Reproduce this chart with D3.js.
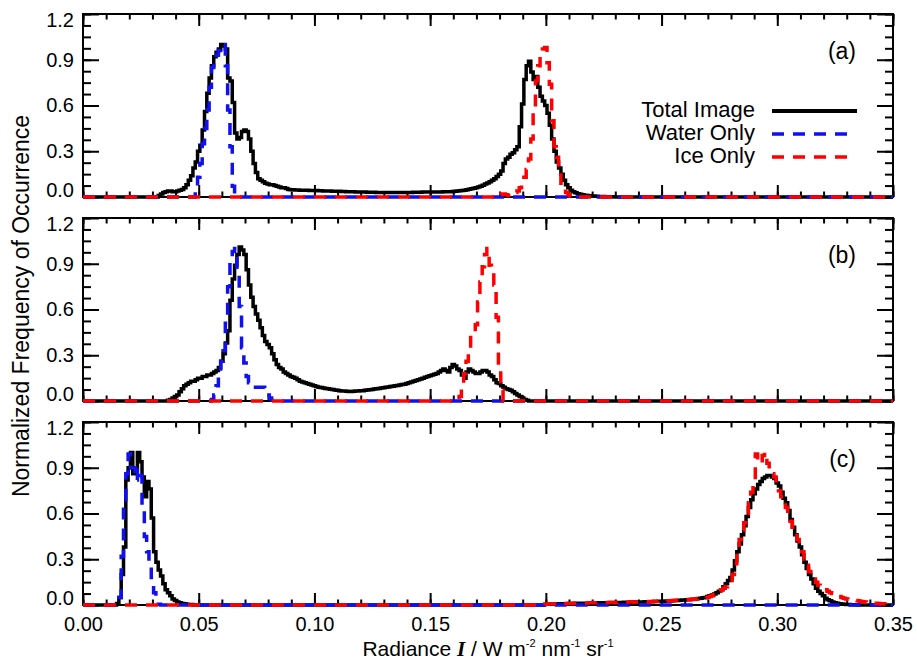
<!DOCTYPE html>
<html>
<head>
<meta charset="utf-8">
<script src="https://cdnjs.cloudflare.com/ajax/libs/d3/7.8.5/d3.min.js"></script>
<style>
  body { margin: 0; background: #fff; }
  text { font-family: "Liberation Sans", Arial, sans-serif; fill: #000; }
</style>
</head>
<body>
<svg width="917" height="661"></svg>
<script>
// histogram bin width (radiance units)
const binWidth = 0.001;

const xTicks = [0, 0.05, 0.10, 0.15, 0.20, 0.25, 0.30, 0.35];
const yTicks = [0, 0.3, 0.6, 0.9, 1.2];
const panelLabels = ["(a)", "(b)", "(c)"];
const seriesNames = ["Total Image", "Water Only", "Ice Only"];

// ---- panel (a) ----
const totalAStart = 0.030;
const totalA = [
  0, 0, 0, 0.01, 0.02, 0.03, 0.035, 0.04, 0.04, 0.035,
  0.035, 0.04, 0.045, 0.05, 0.06, 0.08, 0.11, 0.14, 0.19, 0.23,
  0.30, 0.34, 0.44, 0.56, 0.68, 0.78, 0.86, 0.92, 0.95, 0.97,
  1.00, 0.99, 0.97, 0.78, 0.76, 0.62, 0.42, 0.38, 0.39, 0.43,
  0.44, 0.43, 0.38, 0.30, 0.22, 0.16, 0.12, 0.11, 0.10, 0.09,
  0.085, 0.08, 0.08, 0.075, 0.07, 0.065, 0.06, 0.06, 0.055, 0.05,
  0.048, 0.047, 0.046, 0.046, 0.045, 0.045, 0.044, 0.044, 0.043, 0.043,
  0.042, 0.042, 0.041, 0.041, 0.04, 0.04, 0.039, 0.039, 0.038, 0.038,
  0.037, 0.037, 0.036, 0.036, 0.035, 0.035, 0.034, 0.034, 0.033, 0.033,
  0.032, 0.032, 0.032, 0.031, 0.031, 0.031, 0.031, 0.03, 0.03, 0.03,
  0.03, 0.03, 0.03, 0.03, 0.03, 0.03, 0.03, 0.03, 0.03, 0.03,
  0.03, 0.03, 0.03, 0.031, 0.031, 0.031, 0.031, 0.032, 0.032, 0.032,
  0.032, 0.032, 0.033, 0.033, 0.033, 0.033, 0.034, 0.034, 0.034, 0.035,
  0.036, 0.037, 0.039, 0.041, 0.043, 0.045, 0.048, 0.051, 0.054, 0.057,
  0.06, 0.065, 0.07, 0.077, 0.085, 0.092, 0.10, 0.11, 0.12, 0.135,
  0.15, 0.17, 0.22, 0.25, 0.26, 0.28, 0.29, 0.31, 0.33, 0.46,
  0.61, 0.77, 0.86, 0.89, 0.82, 0.77, 0.79, 0.72, 0.66, 0.63,
  0.60, 0.55, 0.47, 0.38, 0.30, 0.23, 0.19, 0.15, 0.11, 0.08,
  0.06, 0.045, 0.035, 0.028, 0.022, 0.018, 0.014, 0.012, 0.01, 0.008,
  0.007, 0.006, 0.005, 0.004, 0.003, 0.003, 0.002, 0.002, 0.001, 0.001, 0
];
const waterAStart = 0.048;
const waterA = [0, 0.02, 0.13, 0.22, 0.35, 0.45, 0.57, 0.72, 0.85, 0.90,
  0.93, 0.96, 0.98, 1.0, 0.86, 0.57, 0.33, 0.07, 0];
const iceAStart = 0.180;
const iceA = [0.01, 0.02, 0.02, 0.015, 0.01, 0.01, 0.02, 0.03, 0.04, 0.06,
  0.09, 0.13, 0.18, 0.25, 0.38, 0.58, 0.76, 0.86, 0.93, 0.97,
  0.98, 0.88, 0.74, 0.50, 0.33, 0.26, 0.20, 0.09, 0.05, 0.03,
  0.015, 0.005, 0];

// ---- panel (b) ----
const totalBStart = 0.036;
const totalB = [
  0, 0.005, 0.01, 0.02,
  0.03, 0.04, 0.06, 0.08, 0.10, 0.11, 0.12, 0.13, 0.13, 0.14,
  0.15, 0.15, 0.16, 0.16, 0.17, 0.17, 0.18, 0.19, 0.20, 0.22,
  0.26, 0.31, 0.38, 0.46, 0.66, 0.80, 0.89, 0.96, 1.01, 0.99,
  0.96, 0.86, 0.76, 0.68, 0.62, 0.57, 0.53, 0.48, 0.43, 0.39,
  0.37, 0.35, 0.31, 0.27, 0.24, 0.22, 0.21, 0.19, 0.18, 0.17,
  0.16, 0.155, 0.15, 0.14, 0.13, 0.125, 0.12, 0.115, 0.11, 0.105,
  0.10, 0.095, 0.09, 0.088, 0.085, 0.082, 0.08, 0.077, 0.075, 0.072,
  0.07, 0.068, 0.066, 0.065, 0.064, 0.063, 0.063, 0.064, 0.065, 0.066,
  0.067, 0.068, 0.07, 0.072, 0.074, 0.076, 0.078, 0.08, 0.082, 0.085,
  0.087, 0.09, 0.092, 0.095, 0.097, 0.10, 0.102, 0.105, 0.108, 0.11,
  0.115, 0.12, 0.125, 0.13, 0.135, 0.14, 0.145, 0.15, 0.155, 0.16,
  0.165, 0.17, 0.175, 0.18, 0.19, 0.20, 0.21, 0.20, 0.19, 0.22,
  0.24, 0.23, 0.21, 0.20, 0.17, 0.15, 0.19, 0.21, 0.20, 0.19,
  0.18, 0.18, 0.19, 0.20, 0.20, 0.19, 0.17, 0.16, 0.14, 0.12,
  0.115, 0.10, 0.09, 0.08, 0.075, 0.07, 0.06, 0.05, 0.04, 0.03,
  0.02, 0.01, 0.005, 0
];
const waterBStart = 0.055;
const waterB = [0, 0.01, 0.04, 0.10, 0.18, 0.26, 0.33, 0.51, 0.75, 0.92,
  0.98, 1.0, 0.86, 0.62, 0.35, 0.25, 0.16, 0.12, 0.10, 0.09,
  0.09, 0.09, 0.09, 0.09, 0.06, 0.04, 0.02, 0.005, 0];
const iceBStart = 0.160;
const iceB = [0, 0.005, 0.01, 0.03, 0.08, 0.18, 0.26, 0.33, 0.44, 0.44,
  0.50, 0.65, 0.78, 0.88, 0.96, 1.0, 0.89, 0.86, 0.76, 0.55,
  0.25, 0.07, 0];

// ---- panel (c) ----
const totalCStart = 0.014;
const totalC = [0, 0.01, 0.05, 0.20, 0.38, 0.82, 0.90, 1.0, 0.86, 0.90,
  1.0, 0.94, 0.84, 0.71, 0.81, 0.76, 0.57, 0.35, 0.28, 0.23,
  0.19, 0.14, 0.10, 0.08, 0.06, 0.04, 0.03, 0.02, 0.015, 0.01,
  0.008, 0.005, 0.004, 0.003];
const totalC2Start = 0.200;
const totalC2 = [
  0.005, 0.005, 0.006, 0.006, 0.007, 0.007, 0.008, 0.008, 0.009, 0.009,
  0.01, 0.01, 0.01, 0.011, 0.011, 0.011, 0.012, 0.012, 0.012, 0.013,
  0.013, 0.013, 0.014, 0.014, 0.014, 0.015, 0.015, 0.015, 0.016, 0.016,
  0.016, 0.017, 0.017, 0.017, 0.018, 0.018, 0.018, 0.019, 0.019, 0.019,
  0.02, 0.02, 0.02, 0.021, 0.021, 0.022, 0.022, 0.023, 0.023, 0.024,
  0.024, 0.025, 0.026, 0.026, 0.027, 0.028, 0.029, 0.03, 0.031, 0.032,
  0.033, 0.034, 0.035, 0.036, 0.038, 0.04, 0.042, 0.044, 0.047, 0.05,
  0.055, 0.06, 0.065, 0.072, 0.08, 0.09, 0.10, 0.12, 0.14, 0.16,
  0.18, 0.23, 0.29, 0.35, 0.40, 0.46, 0.52, 0.58, 0.64, 0.69,
  0.73, 0.76, 0.79, 0.81, 0.83, 0.84, 0.85, 0.85, 0.84, 0.83,
  0.80, 0.78, 0.74, 0.70, 0.67, 0.62, 0.56, 0.51, 0.46, 0.42,
  0.38, 0.33, 0.28, 0.24, 0.20, 0.17, 0.14, 0.11, 0.09, 0.075,
  0.06, 0.045, 0.035, 0.028, 0.02, 0.015, 0.012, 0.009, 0.006, 0.005,
  0.004, 0.003, 0.002, 0.001, 0.001, 0
];
const waterCStart = 0.015;
const waterC = [0, 0.05, 0.32, 0.69, 0.86, 0.99, 0.90, 0.90, 0.82, 0.90,
  0.85, 0.62, 0.45, 0.35, 0.29, 0.18, 0.08, 0.02, 0.005, 0];
const iceCStart = 0.200;
const iceC = [
  0.005, 0.006, 0.006, 0.007, 0.007, 0.008, 0.008, 0.009, 0.009, 0.01,
  0.01, 0.01, 0.011, 0.011, 0.012, 0.012, 0.012, 0.013, 0.013, 0.014,
  0.014, 0.014, 0.015, 0.015, 0.015, 0.016, 0.016, 0.016, 0.017, 0.017,
  0.017, 0.018, 0.018, 0.018, 0.019, 0.019, 0.019, 0.02, 0.02, 0.02,
  0.02, 0.021, 0.021, 0.022, 0.022, 0.023, 0.023, 0.024, 0.024, 0.025,
  0.025, 0.026, 0.027, 0.028, 0.028, 0.029, 0.03, 0.031, 0.032, 0.033,
  0.034, 0.035, 0.036, 0.037, 0.038, 0.04, 0.041, 0.043, 0.045, 0.048,
  0.05, 0.055, 0.06, 0.068, 0.078, 0.09, 0.10, 0.11, 0.12, 0.14,
  0.16, 0.20, 0.27, 0.35, 0.43, 0.49, 0.54, 0.60, 0.67, 0.74,
  0.82, 0.99, 0.94, 0.93, 0.98, 1.0, 0.93, 0.89, 0.86, 0.84,
  0.80, 0.75, 0.71, 0.68, 0.64, 0.60, 0.55, 0.51, 0.47, 0.43,
  0.40, 0.35, 0.30, 0.26, 0.22, 0.19, 0.17, 0.15, 0.13, 0.12,
  0.11, 0.10, 0.09, 0.08, 0.075, 0.07, 0.06, 0.055, 0.05, 0.045,
  0.04, 0.038, 0.035, 0.032, 0.03, 0.028, 0.025, 0.022, 0.02, 0.018,
  0.015, 0.014, 0.012, 0.011, 0.01, 0.009, 0.008, 0.006, 0.005, 0.003, 0
];

const panels = [
  { label: panelLabels[0], total: [[totalAStart, totalA]], water: [[waterAStart, waterA]], ice: [[iceAStart, iceA]] },
  { label: panelLabels[1], total: [[totalBStart, totalB]], water: [[waterBStart, waterB]], ice: [[iceBStart, iceB]] },
  { label: panelLabels[2], total: [[totalCStart, totalC], [totalC2Start, totalC2]], water: [[waterCStart, waterC]], ice: [[iceCStart, iceC]] }
];

// layout
const left = 83, right = 893;
const panelTops = [14, 218, 422];
const panelH = 183;
const colors = { total: "#000", water: "#1010f0", ice: "#ff0000" };

const svg = d3.select("svg");
const x = d3.scaleLinear().domain([0, 0.35]).range([left, right]);

// expand binned segments onto the full 0..0.35 grid (zero outside)
function histPoints(segments) {
  const n = Math.round(0.35 / binWidth);
  const pts = [];
  for (let i = 0; i <= n; i++) {
    const xv = i * binWidth;
    let yv = 0;
    segments.forEach(([start, vals]) => {
      const k = Math.round((xv - start) / binWidth);
      if (k >= 0 && k < vals.length) yv = vals[k];
    });
    pts.push([xv, yv]);
  }
  return pts;
}

const xMinor = d3.range(0, 0.3501, 0.01);
const yMinor = d3.range(0, 1.2001, 0.075);

panels.forEach((p, i) => {
  const top = panelTops[i], bottom = top + panelH;
  const y = d3.scaleLinear().domain([0, 1.2]).range([bottom, top]);
  const g = svg.append("g");

  function styleAxis(sel) {
    sel.select(".domain").remove();
    sel.selectAll("line").attr("stroke", "#000").attr("stroke-width", 2);
    sel.selectAll("text").attr("font-size", 20).attr("font-family", "Liberation Sans, Arial, sans-serif");
  }

  // minor ticks
  g.append("g").attr("transform", `translate(0,${bottom})`)
    .call(d3.axisBottom(x).tickValues(xMinor).tickSize(-5.5).tickFormat("")).call(styleAxis);
  g.append("g").attr("transform", `translate(0,${top})`)
    .call(d3.axisTop(x).tickValues(xMinor).tickSize(-5.5).tickFormat("")).call(styleAxis);
  g.append("g").attr("transform", `translate(${left},0)`)
    .call(d3.axisLeft(y).tickValues(yMinor).tickSize(-8).tickFormat("")).call(styleAxis);
  g.append("g").attr("transform", `translate(${right},0)`)
    .call(d3.axisRight(y).tickValues(yMinor).tickSize(-8).tickFormat("")).call(styleAxis);

  // major ticks
  g.append("g").attr("transform", `translate(0,${bottom})`)
    .call(d3.axisBottom(x).tickValues(xTicks).tickSize(-12).tickPadding(12)
      .tickFormat(i === 2 ? d3.format(".2f") : ""))
    .call(styleAxis);
  g.append("g").attr("transform", `translate(0,${top})`)
    .call(d3.axisTop(x).tickValues(xTicks).tickSize(-12).tickFormat("")).call(styleAxis);
  const ly = g.append("g").attr("transform", `translate(${left},0)`)
    .call(d3.axisLeft(y).tickValues(yTicks).tickSize(-16).tickPadding(9).tickFormat(d3.format(".1f")))
    .call(styleAxis);
  ly.selectAll("text").attr("y", d => d === 1.2 ? 6 : (d === 0 ? -7 : 0));
  g.append("g").attr("transform", `translate(${right},0)`)
    .call(d3.axisRight(y).tickValues(yTicks).tickSize(-16).tickFormat("")).call(styleAxis);

  // frame
  g.append("rect").attr("x", left).attr("y", top)
    .attr("width", right - left).attr("height", panelH)
    .attr("fill", "none").attr("stroke", "#000").attr("stroke-width", 2);

  const line = d3.line().x(d => x(d[0])).y(d => y(d[1])).curve(d3.curveStep);

  g.append("path").datum(histPoints(p.total)).attr("d", line)
    .attr("fill", "none").attr("stroke", colors.total).attr("stroke-width", 3.5)
    .attr("stroke-linejoin", "miter");
  g.append("path").datum(histPoints(p.water)).attr("d", line)
    .attr("fill", "none").attr("stroke", colors.water).attr("stroke-width", 3.5)
    .attr("stroke-dasharray", "12,9");
  g.append("path").datum(histPoints(p.ice)).attr("d", line)
    .attr("fill", "none").attr("stroke", colors.ice).attr("stroke-width", 3.5)
    .attr("stroke-dasharray", "12,9");

  g.append("text").attr("x", 856).attr("y", top + 45)
    .attr("text-anchor", "end").attr("font-size", 23).text(p.label);
});

// legend in panel (a)
const legend = svg.append("g");
const legendKeys = ["total", "water", "ice"];
legendKeys.forEach((k, j) => {
  const by = 117 + j * 23;
  legend.append("text").attr("x", 755).attr("y", by).attr("text-anchor", "end")
    .attr("font-size", 22).text(seriesNames[j]);
  legend.append("line").attr("x1", 772).attr("x2", k === "total" ? 857 : 847)
    .attr("y1", by - 6).attr("y2", by - 6)
    .attr("stroke", colors[k]).attr("stroke-width", k === "total" ? 4 : 3.5)
    .attr("stroke-dasharray", k === "total" ? null : "12,9");
});

// y axis title
svg.append("text")
  .attr("transform", "translate(29,306) rotate(-90)")
  .attr("text-anchor", "middle").attr("font-size", 23)
  .text("Normalized Frequency of Occurrence");

// x axis title
const xt = svg.append("text").attr("x", 488).attr("y", 656)
  .attr("text-anchor", "middle").attr("font-size", 21);
xt.append("tspan").text("Radiance ");
xt.append("tspan").attr("font-family", "Liberation Serif, serif")
  .attr("font-style", "italic").attr("font-weight", "bold").text("I");
xt.append("tspan").text(" / W m");
xt.append("tspan").attr("font-size", 11).attr("dy", -9).text("-2");
xt.append("tspan").attr("dy", 9).text(" nm");
xt.append("tspan").attr("font-size", 11).attr("dy", -9).text("-1");
xt.append("tspan").attr("dy", 9).text(" sr");
xt.append("tspan").attr("font-size", 11).attr("dy", -9).text("-1");
</script>
</body>
</html>
